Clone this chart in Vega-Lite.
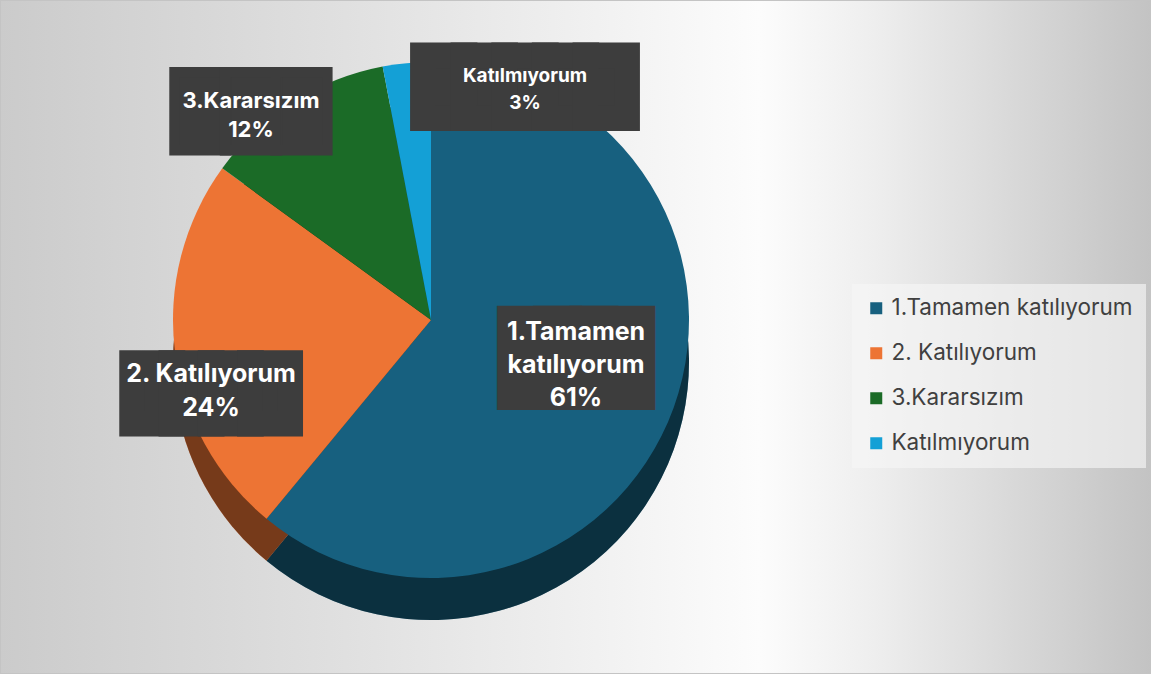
{
  "$schema": "https://vega.github.io/schema/vega-lite/v6.json",
  "width": 1151,
  "height": 674,
  "padding": 0,
  "autosize": {"type": "none"},
  "background": "white",
  "config": {"view": {"stroke": null}},
  "layer": [
    {
      "data": {"values": [{"panel": "chart"}]},
      "mark": {
        "type": "rect",
        "stroke": "#c4c4c4",
        "strokeWidth": 2,
        "fill": {
          "gradient": "linear",
          "x1": 0, "y1": 0.5, "x2": 1, "y2": 0.5,
          "stops": [
            {"offset": 0, "color": "#cbcbcb"},
            {"offset": 0.3, "color": "#e0e0e0"},
            {"offset": 0.66, "color": "#fcfcfc"},
            {"offset": 0.76, "color": "#eeeeee"},
            {"offset": 1, "color": "#c3c3c3"}
          ]
        }
      },
      "encoding": {}
    },
    {
      "data": {
        "values": [
          {"category": "1.Tamamen katılıyorum", "value": 61, "order": 1, "label": "1.Tamamen\nkatılıyorum\n61%"},
          {"category": "2. Katılıyorum", "value": 24, "order": 2, "label": "2. Katılıyorum\n24%"},
          {"category": "3.Kararsızım", "value": 12, "order": 3, "label": "3.Kararsızım\n12%"},
          {"category": "Katılmıyorum", "value": 3, "order": 4, "label": "Katılmıyorum\n3%"}
        ]
      },
      "encoding": {
        "theta": {"field": "value", "type": "quantitative", "stack": true},
        "order": {"field": "order", "type": "quantitative"},
        "detail": {"field": "category", "type": "nominal"}
      },
      "layer": [
        {
          "mark": {"type": "arc", "outerRadius": 258, "xOffset": -144.5, "yOffset": 25},
          "encoding": {
            "color": {"field": "category", "type": "nominal"}
          }
        },
        {
          "mark": {"type": "arc", "outerRadius": 258, "xOffset": -144.5, "yOffset": 25, "fill": "black", "opacity": 0.5}
        },
        {
          "mark": {"type": "arc", "outerRadius": 258, "xOffset": -144.5, "yOffset": -17},
          "encoding": {
            "color": {
              "field": "category",
              "type": "nominal",
              "sort": ["1.Tamamen katılıyorum", "2. Katılıyorum", "3.Kararsızım", "Katılmıyorum"],
              "scale": {
                "domain": ["1.Tamamen katılıyorum", "2. Katılıyorum", "3.Kararsızım", "Katılmıyorum"],
                "range": ["#17607f", "#ed7434", "#1b6b27", "#14a0d6"]
              },
              "legend": {
                "orient": "none",
                "legendX": 852,
                "legendY": 284,
                "title": null,
                "symbolType": "square",
                "symbolSize": 144,
                "symbolStrokeWidth": 0,
                "labelFont": "Inter",
                "labelFontSize": 22.5,
                "labelColor": "#404040",
                "labelLimit": 320,
                "rowPadding": 22,
                "padding": 13,
                "fillColor": "rgba(246,246,246,0.65)"
              }
            }
          }
        },
        {
          "mark": {"type": "text", "radius": 150, "dx": -140.6, "dy": -27.4, "font": "DejaVu Sans", "fontSize": 47.3, "fill": "#3d3d3d", "stroke": "#3d3d3d", "strokeWidth": 48.2, "strokeJoin": "miter"},
          "encoding": {"text": {"condition": {"test": "datum.category === '1.Tamamen katılıyorum'", "value": "███"}, "value": ""}}
        },
        {
          "mark": {"type": "text", "radius": 150, "dx": -140.6, "dy": -55.8, "font": "Inter", "fontWeight": "bold", "fontSize": 25, "lineHeight": 33, "lineBreak": "\n", "fill": "white"},
          "encoding": {"text": {"condition": {"test": "datum.category === '1.Tamamen katılıyorum'", "field": "label"}, "value": ""}}
        },
        {
          "mark": {"type": "text", "radius": 222, "dx": -144.2, "dy": 30.8, "font": "DejaVu Sans", "fontSize": 51.1, "fill": "#3d3d3d", "stroke": "#3d3d3d", "strokeWidth": 25.7, "strokeJoin": "miter"},
          "encoding": {"text": {"condition": {"test": "datum.category === '2. Katılıyorum'", "value": "████"}, "value": ""}}
        },
        {
          "mark": {"type": "text", "radius": 222, "dx": -144.2, "dy": 9.2, "font": "Inter", "fontWeight": "bold", "fontSize": 25, "lineHeight": 34, "lineBreak": "\n", "fill": "white"},
          "encoding": {"text": {"condition": {"test": "datum.category === '2. Katılıyorum'", "field": "label"}, "value": ""}}
        },
        {
          "mark": {"type": "text", "radius": 277, "dx": -176.1, "dy": 11.2, "font": "DejaVu Sans", "fontSize": 65.7, "fill": "#3d3d3d", "stroke": "#3d3d3d", "strokeWidth": 10.5, "strokeJoin": "miter"},
          "encoding": {"text": {"condition": {"test": "datum.category === '3.Kararsızım'", "value": "███"}, "value": ""}}
        },
        {
          "mark": {"type": "text", "radius": 277, "dx": -176.1, "dy": -2.1, "font": "Inter", "fontWeight": "bold", "fontSize": 22, "lineHeight": 29, "lineBreak": "\n", "fill": "white"},
          "encoding": {"text": {"condition": {"test": "datum.category === '3.Kararsızım'", "field": "label"}, "value": ""}}
        },
        {
          "mark": {"type": "text", "radius": 254, "dx": -26.6, "dy": 4.5, "font": "DejaVu Sans", "fontSize": 52.8, "fill": "#3d3d3d", "stroke": "#3d3d3d", "strokeWidth": 25.7, "strokeJoin": "miter"},
          "encoding": {"text": {"condition": {"test": "datum.category === 'Katılmıyorum'", "value": "█████"}, "value": ""}}
        },
        {
          "mark": {"type": "text", "radius": 254, "dx": -26.6, "dy": -8.1, "font": "Inter", "fontWeight": "bold", "fontSize": 19, "lineHeight": 27, "lineBreak": "\n", "fill": "white"},
          "encoding": {"text": {"condition": {"test": "datum.category === 'Katılmıyorum'", "field": "label"}, "value": ""}}
        }
      ]
    }
  ]
}
